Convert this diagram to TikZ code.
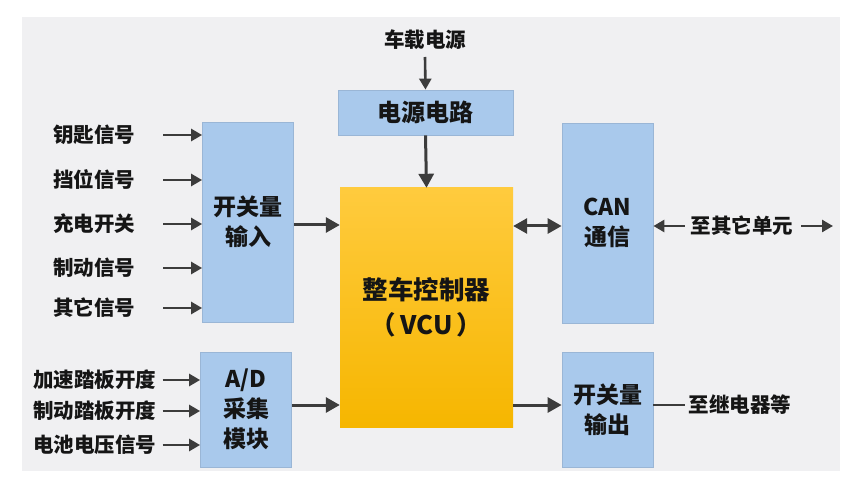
\documentclass[tikz,border=0pt]{standalone}
\usepackage{fontspec}
\newfontfamily\cjk{Noto Sans CJK SC}
\usetikzlibrary{arrows.meta}
\definecolor{panel}{HTML}{F0F0F2}
\definecolor{boxblue}{HTML}{A9C9EC}
\definecolor{boxedge}{HTML}{9AB6D6}
\definecolor{arr}{HTML}{3C3C3C}
\definecolor{txt}{HTML}{151515}
\definecolor{vcutop}{HTML}{FFCB3E}
\definecolor{vcubot}{HTML}{F6B600}
\tikzset{
  bluebox/.style={fill=boxblue, draw=boxedge, line width=0.8pt, inner sep=0pt, text=txt, align=center},
  lbl/.style={inner sep=0pt, text=txt, font=\cjk\bfseries\fontsize{20.5}{24}\selectfont},
  bigarr/.style={draw=arr, line width=3pt, -{Triangle[length=14pt,width=15pt]}},
  smallarr/.style={draw=arr, line width=2.6pt, -{Triangle[length=11pt,width=12pt]}},
  dblarr/.style={draw=arr, line width=3pt, {Triangle[length=14pt,width=15pt]}-{Triangle[length=14pt,width=15pt]}},
  boxfont/.style={font=\cjk\bfseries\fontsize{23}{30}\selectfont}
}
\begin{document}
\begin{tikzpicture}[x=1pt,y=-1pt]
\useasboundingbox (0,0) rectangle (852,481);
\fill[white] (0,0) rectangle (852,481);
\fill[panel] (22,17) rectangle (840,471);

% top power
\node[lbl] (src) at (425,40) {车载电源};
\node[bluebox, minimum width=175pt, minimum height=45pt, font=\cjk\bfseries\fontsize{24}{30}\selectfont] (pwr) at (425.5,112.5) {电源电路};

% VCU
\node[draw=none, top color=vcutop, bottom color=vcubot, minimum width=173pt, minimum height=239pt, inner sep=0pt, text=txt, align=center, font=\cjk\bfseries\fontsize{25.5}{35}\selectfont] (vcu) at (426.5,307.5) {整车控制器\\（\,VCU\,）};

% switch input
\node[bluebox, boxfont, minimum width=91pt, minimum height=200pt] (kin) at (248,222) {开关量\\输入};
% A/D
\node[bluebox, boxfont, minimum width=91pt, minimum height=115pt] (ad) at (246,409.5) {A/D\\采集\\模块};
% CAN
\node[bluebox, boxfont, minimum width=91pt, minimum height=200pt] (can) at (607.5,223) {CAN\\通信};
% switch output
\node[bluebox, boxfont, minimum width=91pt, minimum height=115pt] (kout) at (607.5,409.5) {开关量\\输出};

% left labels
\node[lbl] (l1) at (94,135) {钥匙信号};
\node[lbl] (l2) at (94,180) {挡位信号};
\node[lbl] (l3) at (94,224) {充电开关};
\node[lbl] (l4) at (94,268) {制动信号};
\node[lbl] (l5) at (94,308) {其它信号};
\node[lbl] (a1) at (95,380) {加速踏板开度};
\node[lbl] (a2) at (95,411) {制动踏板开度};
\node[lbl] (a3) at (95,445) {电池电压信号};

% right labels
\node[lbl] (oth) at (742,226) {至其它单元};
\node[lbl] (rel) at (740,405) {至继电器等};
\coordinate (othend) at (833,226);

% arrows
\draw[smallarr] (src.south |- 0,57) -- (pwr.north);
\draw[bigarr] (pwr.south) -- (vcu.north);

\foreach \n in {l1,l2,l3,l4,l5}{
  \draw[smallarr] ([xshift=28pt]\n.east) -- (kin.west |- \n.east);
}
\foreach \n in {a1,a2,a3}{
  \draw[smallarr] ([xshift=6pt]\n.east) -- (ad.west |- \n.east);
}
\draw[bigarr] (kin.east |- 0,225) -- (vcu.west |- 0,225);
\draw[bigarr] (ad.east |- 0,405) -- (vcu.west |- 0,405);
\draw[dblarr] (vcu.east |- 0,226) -- (can.west |- 0,226);
\draw[bigarr] (vcu.east |- 0,405) -- (kout.west |- 0,405);
\draw[smallarr] ([xshift=-6pt]oth.west) -- (can.east |- oth.west);
\draw[smallarr] ([xshift=8pt]oth.east) -- (othend);
\draw[draw=arr, line width=2.6pt] (kout.east |- rel.west) -- ([xshift=-4pt]rel.west);
\end{tikzpicture}
\end{document}
